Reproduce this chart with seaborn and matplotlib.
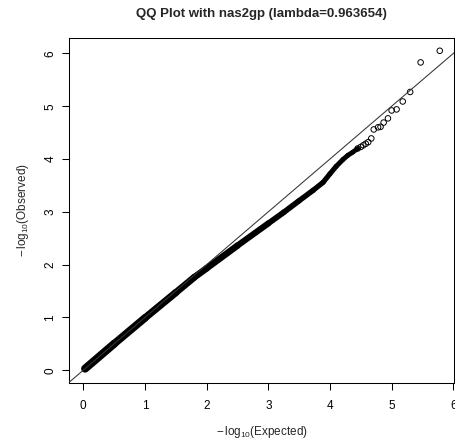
import matplotlib
matplotlib.use("Agg")
import matplotlib.pyplot as plt
import seaborn as sns
import pandas as pd

# Dense band of the QQ plot (expected vs observed, -log10 p)
band_expected = [0.03, 0.5, 1.0, 1.5, 1.8, 2.0, 2.5, 3.0, 3.25, 3.5, 3.73, 3.89, 4.0, 4.1, 4.21, 4.29, 4.37, 4.45]
band_observed = [0.03, 0.50, 0.99, 1.47, 1.76, 1.93, 2.36, 2.78, 2.99, 3.21, 3.41, 3.56, 3.72, 3.86, 3.99, 4.07, 4.13, 4.20]

# Individual tail points
tail_expected = [4.45, 4.50, 4.54, 4.58, 4.62, 4.67, 4.71, 4.78, 4.82, 4.87, 4.94, 5.00, 5.08, 5.18, 5.30, 5.47, 5.78]
tail_observed = [4.20, 4.23, 4.26, 4.29, 4.32, 4.39, 4.56, 4.60, 4.61, 4.69, 4.77, 4.92, 4.94, 5.09, 5.27, 5.83, 6.05]

x_ticks = [0, 1, 2, 3, 4, 5, 6]
y_ticks = [0, 1, 2, 3, 4, 5, 6]
title = "QQ Plot with nas2gp (lambda=0.963654)"

sns.set_theme(style="ticks")
plt.rcParams["font.family"] = ["Liberation Sans", "DejaVu Sans"]
plt.rcParams["mathtext.fontset"] = "custom"
plt.rcParams["mathtext.rm"] = "Liberation Sans"
plt.rcParams["mathtext.it"] = "Liberation Sans"

DPI = 100
fig = plt.figure(figsize=(4.55, 4.40), dpi=DPI)
ax = fig.add_axes([69 / 455, 1 - 383 / 440, (454 - 69) / 455, (383 - 38) / 440])

band = pd.DataFrame({"expected": band_expected, "observed": band_observed})
tail = pd.DataFrame({"expected": tail_expected, "observed": tail_observed})

# the band thins out gradually as the points get sparser
n_int = len(band) - 1
w_start, w_end = 5.8, 3.4
for i in range(n_int):
    lw = w_start + (w_end - w_start) * (band["expected"].iloc[i] / band["expected"].iloc[-1])
    sns.lineplot(data=band.iloc[i:i + 2], x="expected", y="observed", sort=False,
                 estimator=None, color="black", linewidth=lw, solid_capstyle="round",
                 ax=ax, zorder=2)
sns.scatterplot(data=tail, x="expected", y="observed", marker="o",
                facecolor="none", edgecolor="black", linewidth=0.7, s=16, ax=ax, zorder=3)

ax.axline((0, 0), slope=1, color="#333333", linewidth=0.75, zorder=4)

ax.set_xlim(-0.231, 6.011)
ax.set_ylim(-0.242, 6.292)
ax.set_xticks(x_ticks)
ax.set_yticks(y_ticks)
ax.set_xticklabels([str(t) for t in x_ticks])
ax.set_yticklabels([str(t) for t in y_ticks], rotation=90, va="center")

for s in ax.spines.values():
    s.set_visible(True)
    s.set_linewidth(0.75)
    s.set_color("black")

ax.tick_params(axis="both", direction="out", length=5, width=0.75, color="black",
               labelsize=8.5, labelcolor="black")
ax.tick_params(axis="x", pad=7)
ax.tick_params(axis="y", pad=4)

ax.set_xlabel(r"$-\,\mathrm{log}_{10}(\mathrm{Expected})$", fontsize=8.5, labelpad=9)
ax.set_ylabel(r"$-\,\mathrm{log}_{10}(\mathrm{Observed})$", fontsize=8.5, labelpad=10)
ax.set_title(title, fontsize=9.5, fontweight="bold", pad=15)

fig.savefig("out.png", dpi=DPI)
